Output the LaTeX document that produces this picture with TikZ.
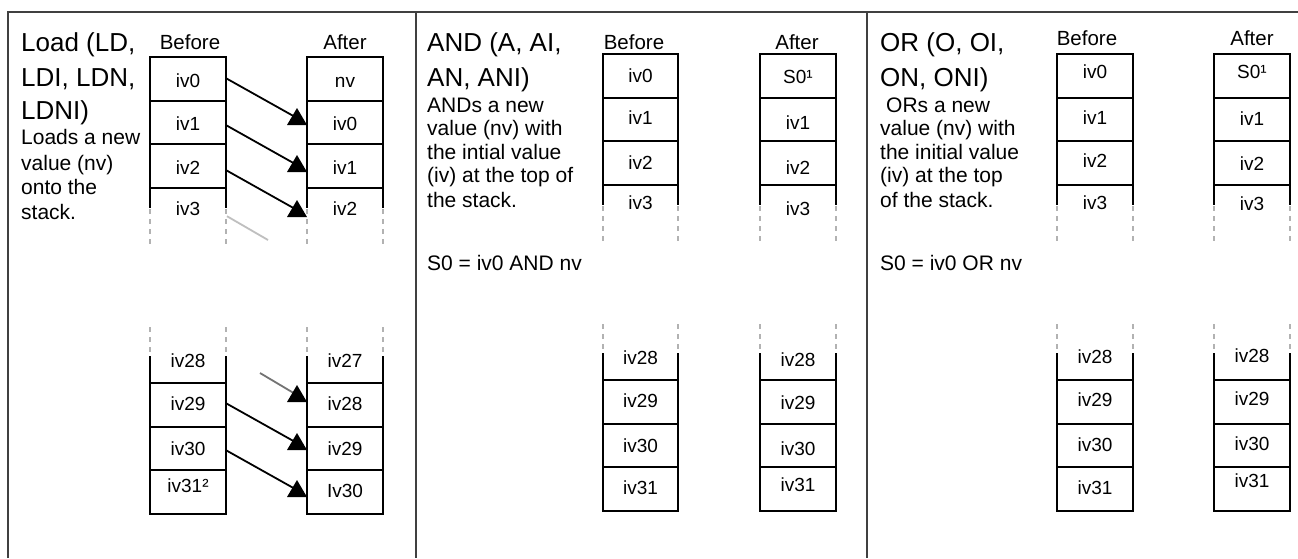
\documentclass[tikz,border=0pt]{standalone}
\usepackage{fontspec}
\setmainfont{Liberation Sans}
\usetikzlibrary{calc}
\tikzset{
  frame/.style={line width=2pt, draw=black!75},
  stk/.style={line width=2pt, draw=black},
  dsh/.style={line width=1.6pt, draw=black!30, dash pattern=on 5pt off 5pt},
  ttl/.style={anchor=base west, inner sep=0pt, font=\fontsize{26}{30}\selectfont},
  bdy/.style={anchor=base west, inner sep=0pt, font=\fontsize{21}{25}\selectfont},
  hd/.style={anchor=base, inner sep=0pt, font=\fontsize{20.5}{24}\selectfont},
  cell/.style={anchor=base, inner sep=0pt, font=\fontsize{19}{22}\selectfont},
  arr/.style={line width=1.8pt, draw=black},
  faint/.style={line width=1.8pt, draw=black!25},
  grayarr/.style={line width=1.8pt, draw=black!55},
  tri/.style={fill=black},
}
\newcommand\drawstack[4]{%
  \draw[stk] (#1,#3+150.5) -- (#1,#3) -- (#2,#3) -- (#2,#3+150.5);
  \foreach \k in {1,2,3} {\draw[stk] (#1,#3+\k*43.5) -- (#2,#3+\k*43.5);}
  \draw[dsh] (#1,#3+152) -- (#1,#3+187);
  \draw[dsh] (#2,#3+152) -- (#2,#3+187);
  \draw[dsh] (#1,#4-56) -- (#1,#4-29);
  \draw[dsh] (#2,#4-56) -- (#2,#4-29);
  \draw[stk] (#1,#4-27) -- (#1,#4+130.5) -- (#2,#4+130.5) -- (#2,#4-27);
  \foreach \k in {0,1,2} {\draw[stk] (#1,#4+\k*43.5) -- (#2,#4+\k*43.5);}
}
\newcommand\tip[1]{\fill[tri] (#1) -- ++(-20,0) -- ++(10,-17) -- cycle;}
\begin{document}
\begin{tikzpicture}[x=1pt,y=-1pt]
\useasboundingbox (0,0) rectangle (1298,558);
\fill[white] (0,0) rectangle (1298,558);
% frame
\draw[frame] (8,558) -- (8,12) -- (1298,12);
\draw[frame] (416,12) -- (416,558);
\draw[frame] (867,12) -- (867,558);

% ---------------- Panel 1: Load ----------------
\node[ttl] (t1a) at (21,51) {Load (LD,};
\node[ttl] (t1b) at (21,86) {LDI, LDN,};
\node[ttl] (t1c) at (21,119) {LDNI)};
\node[bdy] (d1a) at (21,144) {Loads a new};
\node[bdy] (d1b) at (21,170) {value (nv)};
\node[bdy] (d1c) at (21,194) {onto the};
\node[bdy] (d1d) at (21,219) {stack.};
\node[hd] (h1b) at (190,49) {Before};
\node[hd] (h1a) at (345,49) {After};
\drawstack{150}{226}{57}{383}
\drawstack{307}{383}{57}{383}
\coordinate (bR1) at (226,0);
\node[cell] (p1b0) at (188,87) {iv0};
\node[cell] (p1b1) at (188,130) {iv1};
\node[cell] (p1b2) at (188,174) {iv2};
\node[cell] (p1b3) at (188,215) {iv3};
\node[cell] (p1b28) at (188,367) {iv28};
\node[cell] (p1b29) at (188,410) {iv29};
\node[cell] (p1b30) at (188,455) {iv30};
\node[cell] (p1b31) at (188,492) {iv31²};
\node[cell] (p1a0) at (345,87) {nv};
\node[cell] (p1a1) at (345,130) {iv0};
\node[cell] (p1a2) at (345,174) {iv1};
\node[cell] (p1a3) at (345,215) {iv2};
\node[cell] (p1a27) at (345,367) {iv27};
\node[cell] (p1a28) at (345,410) {iv28};
\node[cell] (p1a29) at (345,455) {iv29};
\node[cell] (p1a30) at (345,497) {Iv30};
\coordinate (k1) at (307,125);
\coordinate (k2) at (307,172);
\coordinate (k3) at (307,217);
\coordinate (k4) at (307,402);
\coordinate (k5) at (307,450);
\coordinate (k6) at (307,497);
\coordinate (f1) at (268,240);
\coordinate (f2) at (260,373);
\draw[arr] ($(p1b0 -| bR1)+(0,-2)$) -- ($(k1)+(-10,-7)$);
\draw[arr] ($(p1b1 -| bR1)+(0,2)$) -- ($(k2)+(-10,-7)$);
\draw[arr] ($(p1b2 -| bR1)+(0,3)$) -- ($(k3)+(-10,-7)$);
\draw[faint] ($(p1b3 -| bR1)+(1,8)$) -- (f1);
\draw[grayarr] (f2) -- ($(k4)+(-10,-7)$);
\draw[arr] ($(p1b29 -| bR1)+(0,0)$) -- ($(k5)+(-10,-7)$);
\draw[arr] ($(p1b30 -| bR1)+(0,2)$) -- ($(k6)+(-10,-7)$);
\tip{k1}\tip{k2}\tip{k3}\tip{k4}\tip{k5}\tip{k6}

% ---------------- Panel 2: AND ----------------
\node[ttl] (t2a) at (427,51) {AND (A, AI,};
\node[ttl] (t2b) at (427,86) {AN, ANI)};
\node[bdy] (d2a) at (427,112) {ANDs a new};
\node[bdy] (d2b) at (427,135) {value (nv) with};
\node[bdy] (d2c) at (427,159) {the intial value};
\node[bdy] (d2d) at (427,182) {(iv) at the top of};
\node[bdy] (d2e) at (427,207) {the stack.};
\node[bdy] (d2f) at (427,270) {S0 = iv0 AND nv};
\node[hd] (h2b) at (634,49) {Before};
\node[hd] (h2a) at (797,49) {After};
\drawstack{603}{678}{54}{380}
\drawstack{760}{836}{54}{380}
\node[cell] (p2b0) at (640.5,82) {iv0};
\node[cell] (p2b1) at (640.5,124) {iv1};
\node[cell] (p2b2) at (640.5,169) {iv2};
\node[cell] (p2b3) at (640.5,209) {iv3};
\node[cell] (p2b28) at (640.5,364) {iv28};
\node[cell] (p2b29) at (640.5,407) {iv29};
\node[cell] (p2b30) at (640.5,452) {iv30};
\node[cell] (p2b31) at (640.5,494) {iv31};
\node[cell] (p2a0) at (798,83) {S0¹};
\node[cell] (p2a1) at (798,129) {iv1};
\node[cell] (p2a2) at (798,174) {iv2};
\node[cell] (p2a3) at (798,215) {iv3};
\node[cell] (p2a28) at (798,366) {iv28};
\node[cell] (p2a29) at (798,409) {iv29};
\node[cell] (p2a30) at (798,455) {iv30};
\node[cell] (p2a31) at (798,491) {iv31};

% ---------------- Panel 3: OR ----------------
\node[ttl] (t3a) at (880,51) {OR (O, OI,};
\node[ttl] (t3b) at (880,86) {ON, ONI)};
\node[bdy] (d3a) at (886,112) {ORs a new};
\node[bdy] (d3b) at (880,135) {value (nv) with};
\node[bdy] (d3c) at (880,159) {the initial value};
\node[bdy] (d3d) at (880,182) {(iv) at the top};
\node[bdy] (d3e) at (880,207) {of the stack.};
\node[bdy] (d3f) at (880,270) {S0 = iv0 OR nv};
\node[hd] (h3b) at (1087,45) {Before};
\node[hd] (h3a) at (1252,45) {After};
\drawstack{1057}{1133}{54}{380}
\drawstack{1214}{1290}{54}{380}
\node[cell] (p3b0) at (1095,78) {iv0};
\node[cell] (p3b1) at (1095,124) {iv1};
\node[cell] (p3b2) at (1095,167) {iv2};
\node[cell] (p3b3) at (1095,209) {iv3};
\node[cell] (p3b28) at (1095,363) {iv28};
\node[cell] (p3b29) at (1095,406) {iv29};
\node[cell] (p3b30) at (1095,451) {iv30};
\node[cell] (p3b31) at (1095,494) {iv31};
\node[cell] (p3a0) at (1252,78) {S0¹};
\node[cell] (p3a1) at (1252,125) {iv1};
\node[cell] (p3a2) at (1252,170) {iv2};
\node[cell] (p3a3) at (1252,210) {iv3};
\node[cell] (p3a28) at (1252,362) {iv28};
\node[cell] (p3a29) at (1252,405) {iv29};
\node[cell] (p3a30) at (1252,450) {iv30};
\node[cell] (p3a31) at (1252,487) {iv31};
\end{tikzpicture}
\end{document}
